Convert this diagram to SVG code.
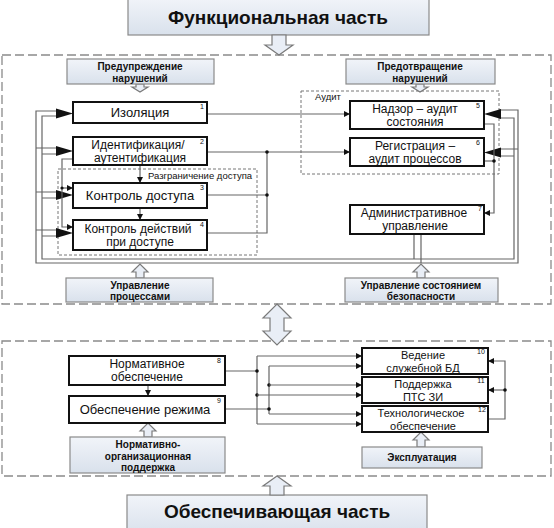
<svg xmlns="http://www.w3.org/2000/svg" width="554" height="528" viewBox="0 0 554 528">
<defs>
<linearGradient id="lg" x1="0" y1="0" x2="0" y2="1">
<stop offset="0" stop-color="#f1f4f9"/>
<stop offset="1" stop-color="#d9e1ec"/>
</linearGradient>
<marker id="sm" viewBox="0 0 10 10" refX="10" refY="5" markerWidth="6" markerHeight="6" markerUnits="userSpaceOnUse" orient="auto">
<path d="M0,0 L10,5 L0,10 Z" fill="#111"/>
</marker>
<style>
.lbl{fill:url(#lg);stroke:#8a8a8a;stroke-width:1.2}
.node{fill:#fff;stroke:#111;stroke-width:2}
.hol{fill:#e9eef6;stroke:#7a7a7a;stroke-width:1.2}
.dash{fill:none;stroke:#8a8a8a;stroke-width:1.3;stroke-dasharray:9 4}
.dot{fill:none;stroke:#777;stroke-width:1;stroke-dasharray:3 2}
.ln{fill:none;stroke:#666;stroke-width:1.2}
.big{fill:#111}
.jd{fill:#111}
text{font-family:"Liberation Sans",Arial,sans-serif;text-anchor:middle;fill:#111}
.t{font-size:13px}
.t2{font-size:12px}
.ts{font-size:11px}
.b{font-size:10px;font-weight:bold}
.h{font-size:19px;font-weight:bold}
.n{font-size:7px}
.s{font-size:9.5px;text-anchor:start}
</style>
</defs>

<g id="frames">
<rect class="dash" x="2" y="55" width="549" height="249"/>
<rect class="dash" x="2" y="341" width="549" height="135"/>
<rect class="dot" x="301" y="91" width="198" height="83"/>
<text class="s" x="315" y="100">Аудит</text>
<rect class="dot" x="58" y="169" width="199" height="86"/>
<text class="s" x="148" y="179">Разграничение доступа</text>
</g>

<g id="title-top">
<rect class="lbl" x="128" y="-2" width="301" height="37"/>
<text class="h" x="278" y="24">Функциональная часть</text>
</g>
<g id="title-bottom">
<rect class="lbl" x="127" y="495" width="300" height="40"/>
<text class="h" x="277" y="518">Обеспечивающая часть</text>
</g>

<g id="hollow-arrows">
<path class="hol" d="M272,35 H286 V45 H293 L279,55 L265,45 H272 Z"/>
<path class="hol" d="M136,84 H144 V87 H148 L140,92 L132,87 H136 Z"/>
<path class="hol" d="M416,84 H424 V87 H428 L420,92 L412,87 H416 Z"/>
<path class="hol" d="M136,278 V272 H132 L140,264 L148,272 H144 V278 Z"/>
<path class="hol" d="M417,278 V272 H413 L421,264 L429,272 H425 V278 Z"/>
<path class="hol" d="M277,304 L291,318 H284 V331 H291 L277,345 L263,331 H270 V318 H263 Z"/>
<path class="hol" d="M144,437 V431 H140 L148,423 L156,431 H152 V437 Z"/>
<path class="hol" d="M417,447 V440 H413 L421,432 L429,440 H425 V447 Z"/>
<path class="hol" d="M270,495 V486 H263 L277,476 L291,486 H284 V495 Z"/>
</g>

<g id="label-boxes">
<g id="lb-prevent">
<rect class="lbl" x="67" y="59" width="147" height="25"/>
<text class="b" x="140" y="70">Предупреждение</text>
<text class="b" x="140" y="81.5">нарушений</text>
</g>
<g id="lb-avert">
<rect class="lbl" x="346" y="59" width="149" height="25"/>
<text class="b" x="420" y="70">Предотвращение</text>
<text class="b" x="420" y="81.5">нарушений</text>
</g>
<g id="lb-proc">
<rect class="lbl" x="66" y="278" width="147" height="24"/>
<text class="b" x="140" y="288.5">Управление</text>
<text class="b" x="140" y="300">процессами</text>
</g>
<g id="lb-state">
<rect class="lbl" x="345" y="278" width="153" height="24"/>
<text class="b" x="421" y="288.5">Управление состоянием</text>
<text class="b" x="421" y="300">безопасности</text>
</g>
<g id="lb-norm">
<rect class="lbl" x="70" y="437" width="155" height="36"/>
<text class="b" x="148" y="448">Нормативно-</text>
<text class="b" x="148" y="459.5">организационная</text>
<text class="b" x="148" y="471">поддержка</text>
</g>
<g id="lb-expl">
<rect class="lbl" x="362" y="447" width="120" height="21"/>
<text class="b" x="422" y="461">Эксплуатация</text>
</g>
</g>

<g id="connectors">
<path class="ln" d="M58,111 H36 V263 H518 V110 H499 M36,148 H58 M36,192 H58 M36,230 H58 M518,149 H499"/>
<path class="ln" d="M58,116 H42 V259 H514 V118 H499 M42,154 H58 M42,198 H58 M42,236 H58 M514,156 H499"/>
<path class="ln" d="M414,234 V259 M421,234 V263"/>
<polygon class="big" points="56,108.5 73,113.5 56,118.5"/>
<polygon class="big" points="56,146 73,151 56,156"/>
<polygon class="big" points="56,190 73,195 56,200"/>
<polygon class="big" points="56,228 73,233 56,238"/>
<polygon class="big" points="501,109 484,114 501,119"/>
<polygon class="big" points="501,147.5 484,152.5 501,157.5"/>
<path class="ln" d="M207,114 H350" marker-end="url(#sm)"/>
<path class="ln" d="M207,152 H350" marker-end="url(#sm)"/>
<path class="ln" d="M207,195 H267 M207,233 H267 V152"/>
<circle class="jd" cx="267" cy="152" r="1.8"/>
<circle class="jd" cx="267" cy="195" r="1.8"/>
<path class="ln" d="M140,165 V183" marker-end="url(#sm)"/>
<path class="ln" d="M140,208 V220" marker-end="url(#sm)"/>
<path class="ln" d="M73,159 H62 V227 H73" marker-end="url(#sm)"/>
<path class="ln" d="M62,188 H73" marker-end="url(#sm)"/>
<circle class="jd" cx="62" cy="188" r="1.6"/>
<path class="ln" d="M484,124 H494 V213 H484" marker-end="url(#sm)"/>
<path class="ln" d="M484,161 H494"/>
<circle class="jd" cx="494" cy="161" r="1.8"/>
<path class="ln" d="M225,371 H257 M225,409 H269 M257,356 V424 M269,366 V414"/>
<circle class="jd" cx="257" cy="371" r="1.8"/>
<circle class="jd" cx="269" cy="409" r="1.8"/>
<circle class="jd" cx="269" cy="385" r="1.8"/>
<circle class="jd" cx="257" cy="395" r="1.8"/>
<path class="ln" d="M257,356 H362" marker-end="url(#sm)"/>
<path class="ln" d="M269,366 H362" marker-end="url(#sm)"/>
<path class="ln" d="M269,385 H362" marker-end="url(#sm)"/>
<path class="ln" d="M257,395 H362" marker-end="url(#sm)"/>
<path class="ln" d="M269,414 H362" marker-end="url(#sm)"/>
<path class="ln" d="M257,424 H362" marker-end="url(#sm)"/>
<path class="ln" d="M148,385 V396" marker-end="url(#sm)"/>
<path class="ln" d="M488,419 H505 V361 H488" marker-end="url(#sm)"/>
<path class="ln" d="M505,390 H488" marker-end="url(#sm)"/>
<circle class="jd" cx="505" cy="390" r="1.8"/>
</g>

<g id="n1">
<rect class="node" x="73" y="102" width="134" height="21"/>
<text class="t" x="140" y="117">Изоляция</text>
<text class="n" x="202" y="109">1</text>
</g>
<g id="n2">
<rect class="node" x="73" y="137" width="134" height="28"/>
<text class="t2" x="138" y="149">Идентификация/</text>
<text class="t2" x="140" y="162">аутентификация</text>
<text class="n" x="202" y="144">2</text>
</g>
<g id="n3">
<rect class="node" x="73" y="183" width="134" height="25"/>
<text class="t" x="140" y="200">Контроль доступа</text>
<text class="n" x="202" y="190">3</text>
</g>
<g id="n4">
<rect class="node" x="73" y="220" width="134" height="30"/>
<text class="t2" x="138" y="232.5">Контроль действий</text>
<text class="t2" x="140" y="245.5">при доступе</text>
<text class="n" x="202" y="227">4</text>
</g>
<g id="n5">
<rect class="node" x="350" y="101" width="134" height="28"/>
<text class="t2" x="415" y="112.5">Надзор – аудит</text>
<text class="t2" x="415" y="125.5">состояния</text>
<text class="n" x="478" y="108">5</text>
</g>
<g id="n6">
<rect class="node" x="350" y="138" width="134" height="28"/>
<text class="t2" x="415" y="149.5">Регистрация –</text>
<text class="t2" x="415" y="162.5">аудит процессов</text>
<text class="n" x="478" y="145">6</text>
</g>
<g id="n7">
<rect class="node" x="350" y="205" width="134" height="29"/>
<text class="t2" x="414" y="217">Административное</text>
<text class="t2" x="415" y="230">управление</text>
<text class="n" x="480" y="211">7</text>
</g>
<g id="n8">
<rect class="node" x="69" y="356" width="156" height="29"/>
<text class="t2" x="147" y="367.5">Нормативное</text>
<text class="t2" x="147" y="380.5">обеспечение</text>
<text class="n" x="219" y="363">8</text>
</g>
<g id="n9">
<rect class="node" x="69" y="396" width="156" height="27"/>
<text class="t" x="145" y="414">Обеспечение режима</text>
<text class="n" x="219" y="403">9</text>
</g>
<g id="n10">
<rect class="node" x="362" y="348" width="126" height="26"/>
<text class="ts" x="423" y="359">Ведение</text>
<text class="ts" x="423" y="371.5">служебной БД</text>
<text class="n" x="481" y="354">10</text>
</g>
<g id="n11">
<rect class="node" x="362" y="377" width="126" height="26"/>
<text class="ts" x="423" y="388">Поддержка</text>
<text class="ts" x="423" y="400.5">ПТС ЗИ</text>
<text class="n" x="481" y="383">11</text>
</g>
<g id="n12">
<rect class="node" x="362" y="406" width="126" height="26"/>
<text class="ts" x="421" y="417">Технологическое</text>
<text class="ts" x="423" y="429.5">обеспечение</text>
<text class="n" x="482" y="412">12</text>
</g>
</svg>
